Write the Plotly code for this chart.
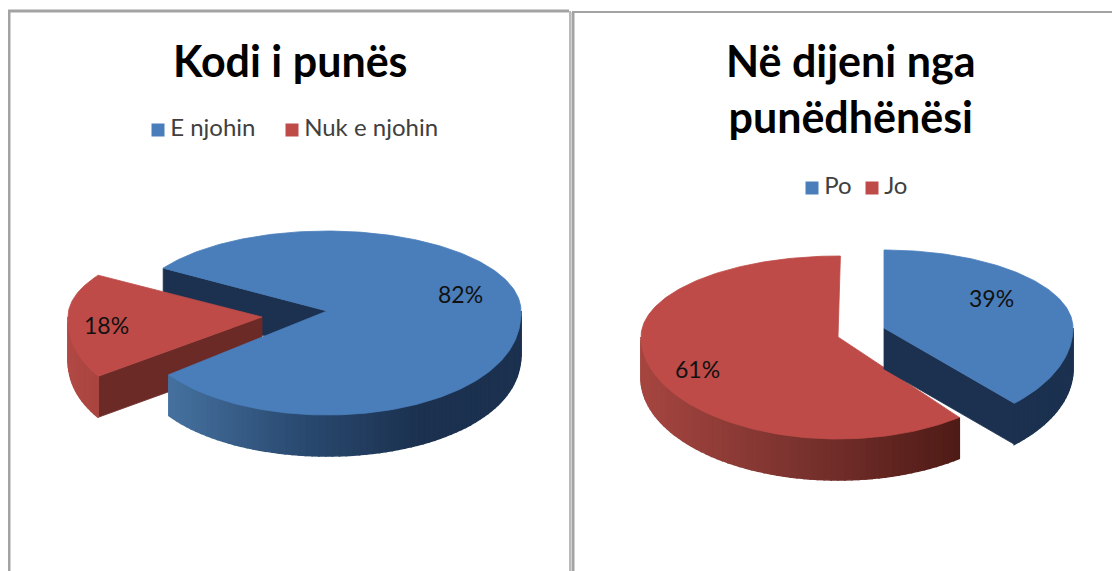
import math
import plotly.graph_objects as go

# ---- data ----
left_title = "Kodi i punës"
left_categories = ["E njohin", "Nuk e njohin"]
left_values = [82, 18]
right_title = "Në dijeni nga<br>punëdhënësi"
right_categories = ["Po", "Jo"]
right_values = [39, 61]

# ---- style ----
BLUE, RED = "#4a7ebb", "#be4b48"
DARK_BLUE, DARK_RED = "#1b314f", "#6c2a27"
FONT = "Lato"
DEPTH = 41
RX = 194
RY_UP, RY_DOWN = 80, 104
STEP = 1.0

fig = go.Figure()


def pt(c, ang, rx=RX, up=RY_UP, down=RY_DOWN, exp=1.0):
    """Angle in degrees clockwise from 12 o'clock -> pixel position (tilted, with perspective)."""
    s, k = math.sin(math.radians(ang)), math.cos(math.radians(ang))
    if k > 0:
        return c[0] + rx * s, c[1] - up * k
    return c[0] + rx * s, c[1] + down * abs(k) ** exp


def arc(c, a0, a1, step=STEP, **kw):
    n = max(2, int(abs(a1 - a0) / step))
    return [pt(c, a0 + (a1 - a0) * i / n, **kw) for i in range(n + 1)]


def poly(points, color, name=None, lw=0.8):
    xs = [p[0] for p in points] + [points[0][0]]
    ys = [p[1] for p in points] + [points[0][1]]
    fig.add_trace(go.Scatter(x=xs, y=ys, mode="lines", fill="toself", fillcolor=color,
                             line=dict(color=color, width=lw), hoverinfo="skip",
                             showlegend=False, name=name))


def mix(stops, x):
    if x <= stops[0][0]:
        return stops[0][1]
    for (x0, c0), (x1, c1) in zip(stops, stops[1:]):
        if x <= x1:
            t = (x - x0) / (x1 - x0)
            a = [int(c0[i:i + 2], 16) for i in (1, 3, 5)]
            b = [int(c1[i:i + 2], 16) for i in (1, 3, 5)]
            return "rgb(%d,%d,%d)" % tuple(round(p + (q - p) * t) for p, q in zip(a, b))
    return stops[-1][1]


def wall(c, a0, a1, stops, **kw):
    pts = arc(c, a0, a1, step=2.0, **kw)
    for p, q in zip(pts, pts[1:]):
        poly([p, q, (q[0], q[1] + DEPTH), (p[0], p[1] + DEPTH)],
             mix(stops, (p[0] + q[0]) / 2), lw=1.6)


def cut(c, a, color, **kw):
    p = pt(c, a, **kw)
    poly([c, p, (p[0], p[1] + DEPTH), (c[0], c[1] + DEPTH)], color)


def top(c, a0, a1, color, name, **kw):
    poly([c] + arc(c, a0, a1, **kw), color, name)


def legend_item(x, y, color, label):
    fig.add_trace(go.Scatter(x=[x], y=[y], mode="markers+text", text=["\u2009" + label],
                             textposition="middle right",
                             marker=dict(symbol="square", size=13, color=color),
                             textfont=dict(family=FONT, size=24, color="#404040"),
                             hoverinfo="skip", showlegend=False))


def label(x, y, text):
    fig.add_annotation(x=x, y=y, text=text, showarrow=False, xref="x", yref="y",
                       font=dict(family=FONT, size=23, color="#111111"))


def title(x, y, text):
    fig.add_annotation(x=x, y=y, text="<b>%s</b>" % text, showarrow=False, xref="x", yref="y",
                       font=dict(family=FONT, size=43, color="#000000"))


# ---- left pie: the red slice is centred on 9 o'clock ----
lc_blue, lc_red = (327, 311), (262, 317)
kw_left = dict(exp=0.9)
red_span = left_values[1] / sum(left_values) * 360
l_start = 270 + red_span / 2           # blue starts here, going clockwise
l_end = l_start + left_values[0] / sum(left_values) * 360 - 360 - 3  # 3 deg: perspective trim
BLUE_WALL = [(169, "#45719f"), (300, "#2a4a70"), (420, DARK_BLUE), (520, DARK_BLUE)]

cut(lc_blue, l_start, DARK_BLUE, **kw_left)
# red slice
cut(lc_red, 270 - red_span / 2, DARK_RED, up=78, **kw_left)
wall(lc_red, 270 - red_span / 2, 270, [(60, "#b34a45"), (100, "#a8443f")], up=78, **kw_left)
top(lc_red, 270 - red_span / 2, 270 + red_span / 2, RED, left_categories[1], up=78, **kw_left)
# blue slice, front wall
wall(lc_blue, 90, l_end, BLUE_WALL, **kw_left)
top(lc_blue, l_start, l_end + 360, BLUE, left_categories[0], **kw_left)

# ---- right pie: blue starts at 12 o'clock ----
rc_blue, rc_red = (884, 328), (838, 337)
r_split = right_values[0] / sum(right_values) * 360
kw_blue = dict(rx=189, up=78, down=104)
kw_red = dict(rx=197, up=81, down=102)
blue_end = r_split - 4      # perspective trim
red_start = r_split + 1.6   # perspective trim

wall(rc_red, red_start, 270, [(645, "#a54540"), (800, "#7a322e"), (958, "#4f1b16")], **kw_red)
top(rc_red, red_start, 360.7, RED, right_categories[1], **kw_red)
cut(rc_blue, blue_end, DARK_BLUE, **kw_blue)
wall(rc_blue, 90, blue_end, [(884, DARK_BLUE), (1080, DARK_BLUE)], **kw_blue)
top(rc_blue, 0, blue_end, BLUE, right_categories[0], **kw_blue)

# ---- texts ----
title(290, 60, left_title)
title(851, 88, right_title)
legend_item(158, 130, BLUE, left_categories[0])
legend_item(292, 130, RED, left_categories[1])
legend_item(812, 188, BLUE, right_categories[0])
legend_item(872, 188, RED, right_categories[1])
label(460, 294, "%d%%" % left_values[0])
label(106, 325, "%d%%" % left_values[1])
label(991, 298, "%d%%" % right_values[0])
label(697, 369, "%d%%" % right_values[1])

# ---- panel frames ----
for x0, y0, x1, y1, w in [(9, 10, 9, 571, 3), (8, 11, 569, 11, 3), (570, 11, 570, 571, 1.5),
                          (573, 12, 573, 571, 3), (572, 12, 1120, 12, 2)]:
    fig.add_shape(type="line", x0=x0, y0=y0, x1=x1, y1=y1, xref="x", yref="y",
                  line=dict(color="#a3a3a3", width=w))

# The page has an 8 px body margin, so the figure covers pixels 8..1120 and 8..571.
fig.update_layout(
    width=1112, height=563, margin=dict(l=0, r=0, t=0, b=0),
    paper_bgcolor="white", plot_bgcolor="white", showlegend=False,
    xaxis=dict(range=[8, 1120], visible=False, fixedrange=True),
    yaxis=dict(range=[571, 8], visible=False, fixedrange=True),
)
fig.write_html("out.html", config={"displayModeBar": False})
